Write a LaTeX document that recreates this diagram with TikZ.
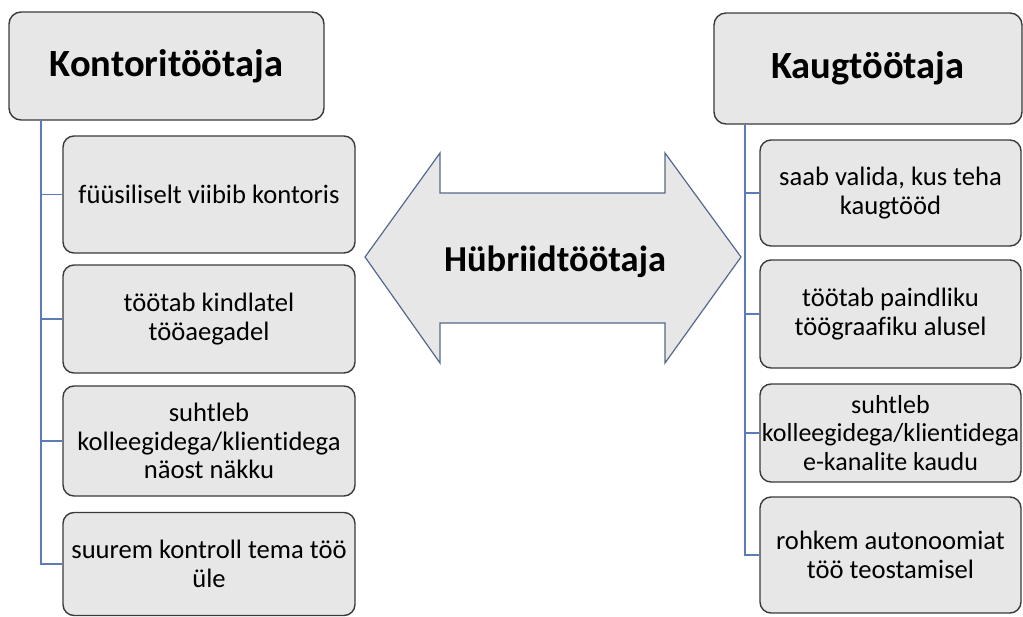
\documentclass[tikz,border=0pt]{standalone}
\usepackage{fontspec}
\setmainfont{Carlito}[Ligatures=NoCommon]
\definecolor{boxfill}{HTML}{E7E7E7}
\definecolor{boxline}{HTML}{3A3A3A}
\definecolor{spine}{HTML}{5A7CBA}
\definecolor{arrline}{HTML}{55698A}
\begin{document}
\begin{tikzpicture}[x=1pt,y=-1pt,
  titlebox/.style={draw=boxline, fill=boxfill, line width=1.4pt, rounded corners=12pt,
    inner sep=0pt, font=\fontsize{38.5}{42}\selectfont\bfseries},
  itembox/.style={draw=boxline, fill=boxfill, line width=1.4pt, rounded corners=11pt,
    inner sep=0pt, align=center, minimum width=292pt, font=\fontsize{26.6}{28.5}\selectfont},
  conn/.style={draw=spine, line width=1.3pt}]
\useasboundingbox (0,0) rectangle (1023,616);
% left column
\node[titlebox, minimum width=315pt, minimum height=108pt] (lt) at (166.5,66) {Kontoritöötaja};
\node[itembox, minimum height=117pt] (l1) at (209,194.5) {füüsiliselt viibib kontoris};
\node[itembox, minimum height=108pt] (l2) at (209,319) {töötab kindlatel\\tööaegadel};
\node[itembox, minimum height=110pt] (l3) at (209,441) {suhtleb\\kolleegidega/klientidega\\näost näkku};
\node[itembox, minimum height=103pt] (l4) at (209,564) {suurem kontroll tema töö\\üle};
\coordinate (ls) at (41,120);
\draw[conn] (ls) |- (l1.west);
\draw[conn] (ls) |- (l2.west);
\draw[conn] (ls) |- (l3.west);
\draw[conn] (ls) |- (l4.west);
% right column
\node[titlebox, minimum width=308pt, minimum height=111pt] (rt) at (868,68.5) {Kaugtöötaja};
\node[itembox, minimum width=261pt, minimum height=106pt] (r1) at (890.5,193) {saab valida, kus teha\\kaugtööd};
\node[itembox, minimum width=261pt, minimum height=108pt] (r2) at (890.5,314) {töötab paindliku\\töögraafiku alusel};
\node[itembox, minimum width=261pt, minimum height=98pt, font=\fontsize{26}{28.5}\selectfont] (r3) at (890.5,433) {suhtleb\\kolleegidega/klientidega\\e-kanalite kaudu};
\node[itembox, minimum width=261pt, minimum height=116pt] (r4) at (890.5,555) {rohkem autonoomiat\\töö teostamisel};
\coordinate (rs) at (745,124);
\draw[conn] (rs) |- (r1.west);
\draw[conn] (rs) |- (r2.west);
\draw[conn] (rs) |- (r3.west);
\draw[conn] (rs) |- (r4.west);
% double arrow
\draw[draw=arrline, fill=boxfill, line width=1.2pt, line join=miter]
  (365,257) -- (440,153) -- (440,193) -- (665,193) -- (665,153) -- (741,257)
  -- (665,363) -- (665,323) -- (440,323) -- (440,363) -- cycle;
\node[font=\fontsize{36.5}{40}\selectfont\bfseries] (hy) at (555,262) {Hübriidtöötaja};
\end{tikzpicture}
\end{document}
